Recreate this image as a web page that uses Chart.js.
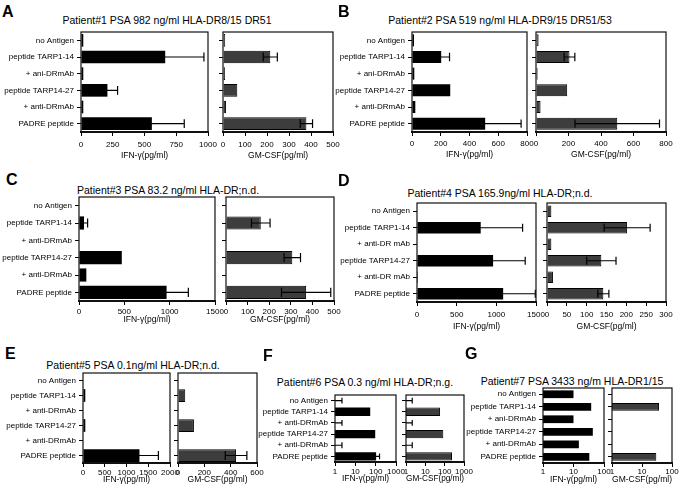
<!DOCTYPE html>
<html>
<head>
<meta charset="utf-8">
<script src="https://cdn.jsdelivr.net/npm/chart.js@4"></script>
<style>
  body { margin: 0; background: #fff; }
  #fig { position: relative; width: 681px; height: 497px; overflow: hidden;
         font-family: "Liberation Sans", Arial, sans-serif; color: #000; }
  .plot { position: absolute; }
  .ttl { position: absolute; font-size: 10.5px; white-space: nowrap; transform: translate(-50%, -50%); }
  .let { position: absolute; font-size: 16px; font-weight: bold; line-height: 16px; transform: translate(0, -50%); }
</style>
</head>
<body>
<div id="fig"></div>
<script>
/*
 * Values (pg/ml), one array per series
 */
const rowsA = ["no Antigen", "peptide TARP1-14", "+ ani-DRmAb", "peptide TARP14-27", "+ anti-DRmAb", "PADRE peptide"];
const rowsC = ["no Antigen", "peptide TARP1-14", "+ anti-DRmAb", "peptide TARP14-27", "+ anti-DRmAb", "PADRE peptide"];
const rowsD = ["no Antigen", "peptide TARP1-14", "+ anti-DR mAb", "peptide TARP14-27", "+ anti-DR mAb", "PADRE peptide"];

const titles = [
    "Patient#1 PSA 982 ng/ml HLA-DR8/15 DR51",
    "Patient#2 PSA 519 ng/ml HLA-DR9/15 DR51/53",
    "Patient#3 PSA 83.2 ng/ml HLA-DR;n.d.",
    "Patient#4 PSA 165.9ng/ml HLA-DR;n.d.",
    "Patient#5 PSA 0.1ng/ml HLA-DR;n.d.",
    "Patient#6 PSA 0.3 ng/ml HLA-DR;n.g.",
    "Patient#7 PSA 3433 ng/m HLA-DR1/15"
];
const letters = ["A", "B", "C", "D", "E", "F", "G"];

// Patient 1
const ifnA = [18, 663, 18, 208, 18, 558];
const ifnErrA = [0, 305, 0, 80, 0, 255];
const gmA = [10, 215, 9, 65, 14, 379];
const gmErrA = [0, 32, 0, 0, 0, 28];
// Patient 2
const ifnB = [14, 203, 16, 266, 23, 509];
const ifnErrB = [0, 58, 0, 0, 0, 250];
const gmB = [16, 206, 10, 192, 28, 500];
const gmErrB = [0, 33, 0, 0, 0, 260];
// Patient 3
const ifnC = [0, 55, 0, 472, 81, 966];
const ifnErrC = [0, 40, 0, 0, 0, 240];
const gmC = [0, 161, 0, 307, 0, 371];
const gmErrC = [0, 43, 0, 38, 0, 114];
// Patient 4
const ifnD = [0, 803, 0, 959, 12, 1086];
const ifnErrD = [0, 528, 0, 405, 0, 405];
const gmD = [11, 202, 11, 137, 15, 142];
const gmErrD = [0, 58, 0, 37, 0, 14];
// Patient 5
const ifnE = [0, 53, 0, 53, 0, 1298];
const ifnErrE = [0, 0, 0, 0, 0, 435];
const gmE = [0, 55, 0, 121, 0, 441];
const gmErrE = [0, 0, 0, 0, 0, 82];
// Patient 6 (log axis)
const ifnF = [1, 54, 1, 95, 1, 105];
const ifnErrF = [1.2, 0, 1.2, 0, 1.2, 50];
const gmF = [1, 58, 1, 85, 1, 240];
const gmErrF = [1.1, 0, 1.1, 0, 1.1, 0];
// Patient 7 (log axis)
const ifnG = [10, 38, 10, 43, 15, 33];
const gmG = [null, 37, null, null, null, 30];

// tick labels
const ticksA = [0, 250, 500, 750, 1000];
const ticksGmA = [0, 100, 200, 300, 400, 500];
const ticksB = [0, 200, 400, 600, 800];
const ticksC = [0, 500, 1000, 1500];
const ticksGmD = [0, 50, 100, 150, 200, 250, 300];
const ticksE = [0, 500, 1000, 1500, 2000];
const ticksGmE = [0, 200, 400, 600];
const ticksF = [1, 10, 100, 1000];
const ticksG = [1, 10, 100];

const fig = document.getElementById("fig");
Chart.defaults.font.family = '"Liberation Sans", Arial, sans-serif';
Chart.defaults.color = "#000";

// draws the frame round each plot
const framePlugin = {
    id: "frame",
    afterDraw: (chart) => {
        const {ctx, chartArea} = chart;
        ctx.save();
        ctx.strokeStyle = "#111";
        ctx.lineWidth = 1.2;
        ctx.strokeRect(chartArea.left, chartArea.top, chartArea.right - chartArea.left, chartArea.bottom - chartArea.top);
        ctx.restore();
    }
};

// symmetric error bars, placed with the x scale
const errorBarsPlugin = {
    id: "errorBars",
    afterDatasetsDraw: (chart, args, opts) => {
        const errs = opts.errors;
        if (!errs) return;
        const meta = chart.getDatasetMeta(0);
        const xs = chart.scales.x;
        const vals = chart.data.datasets[0].data;
        const ctx = chart.ctx;
        ctx.save();
        ctx.strokeStyle = "#000";
        ctx.lineWidth = 1.2;
        meta.data.forEach((bar, i) => {
            const e = errs[i];
            if (!e || vals[i] == null) return;
            const v = vals[i];
            const cap = bar.height * 0.35;
            const lo = v - e;
            const hasLo = lo > xs.min;
            const x1 = hasLo ? xs.getPixelForValue(lo) : chart.chartArea.left;
            const x2 = xs.getPixelForValue(v + e);
            ctx.beginPath();
            ctx.moveTo(x1, bar.y);
            ctx.lineTo(x2, bar.y);
            ctx.moveTo(x2, bar.y - cap);
            ctx.lineTo(x2, bar.y + cap);
            if (hasLo) {
                ctx.moveTo(x1, bar.y - cap);
                ctx.lineTo(x1, bar.y + cap);
            }
            ctx.stroke();
        });
        ctx.restore();
    }
};

function addPlot(box, o) {
    const W = o.showLabels ? 80 : 10, T = 6, R = 14, H = o.xh;
    const left = Math.round(box[0]) - W, top = Math.round(box[1]) - T;
    const w = Math.round(box[2]) - Math.round(box[0]) + W + R;
    const h = Math.round(box[3]) - Math.round(box[1]) + T + H;
    const cv = document.createElement("canvas");
    cv.className = "plot";
    cv.width = w; cv.height = h;
    cv.style.left = left + "px"; cv.style.top = top + "px";
    cv.style.width = w + "px"; cv.style.height = h + "px";
    fig.appendChild(cv);

    const ticks = o.ticks;
    new Chart(cv, {
        type: "bar",
        data: {
            labels: o.labels,
            datasets: [{
                data: o.values,
                backgroundColor: o.color,
                borderColor: "#000",
                borderWidth: o.color == "#000" ? 0 : 1,
                barPercentage: o.bp,
                categoryPercentage: 1
            }]
        },
        options: {
            indexAxis: "y",
            responsive: false,
            animation: false,
            layout: {padding: {top: T, right: R, left: 0, bottom: 0}},
            plugins: {
                legend: {display: false},
                tooltip: {enabled: false},
                errorBars: {errors: o.errors}
            },
            scales: {
                x: {
                    type: o.log ? "logarithmic" : "linear",
                    min: ticks[0],
                    max: ticks[ticks.length - 1],
                    afterBuildTicks: (s) => { s.ticks = ticks.map(v => ({value: v})); },
                    afterFit: (s) => { s.height = H; s.paddingLeft = 0; s.paddingRight = 0; },
                    grid: {drawOnChartArea: false, tickLength: 4, color: "#000"},
                    border: {display: true, color: "#111", width: 2},
                    ticks: {padding: o.tp, font: {size: 8}, maxRotation: 0, autoSkip: false, callback: (v) => String(v)},
                    title: {display: true, text: o.xtitle, padding: 0, font: {size: 8.5}}
                },
                y: {
                    offset: true,
                    afterFit: (s) => { s.width = W; s.paddingTop = 0; s.paddingBottom = 0; },
                    grid: {drawOnChartArea: false, offset: false, tickLength: 4, color: "#000"},
                    border: {display: false},
                    ticks: {display: o.showLabels, padding: 3, font: {size: 8}, autoSkip: false}
                }
            }
        },
        plugins: [framePlugin, errorBarsPlugin]
    });
}

function addText(cls, text, x, y) {
    const d = document.createElement("div");
    d.className = cls;
    d.textContent = text;
    d.style.left = x + "px";
    d.style.top = y + "px";
    fig.appendChild(d);
}

// Sets up one patient panel: IFN-g plot with the row labels, GM-CSF plot beside it
function setupPanel(p) {
    addText("let", letters[p.n], p.letter[0], p.letter[1]);
    addText("ttl", titles[p.n], p.title[0], p.title[1]);
    addPlot(p.ifnBox, {labels: p.rows, values: p.ifn, errors: p.ifnErr, color: "#000", ticks: p.ifnTicks,
        log: p.log, showLabels: true, bp: p.bp, tp: p.tp, xh: p.xh, xtitle: "IFN-\u03b3(pg/ml)"});
    addPlot(p.gmBox, {labels: p.rows, values: p.gm, errors: p.gmErr, color: "#3d3d3d", ticks: p.gmTicks,
        log: p.log, showLabels: false, bp: p.bp, tp: p.tp, xh: p.xh, xtitle: "GM-CSF(pg/ml)"});
}

setupPanel({n: 0, rows: rowsA, ifn: ifnA, ifnErr: ifnErrA, gm: gmA, gmErr: gmErrA, ifnTicks: ticksA, gmTicks: ticksGmA,
    ifnBox: [81, 32, 208, 132], gmBox: [223, 32, 333, 132], tp: 4, xh: 29, bp: 0.76, title: [167, 20], letter: [2, 12]});
setupPanel({n: 1, rows: rowsA, ifn: ifnB, ifnErr: ifnErrB, gm: gmB, gmErr: gmErrB, ifnTicks: ticksB, gmTicks: ticksB,
    ifnBox: [412, 32, 527, 132], gmBox: [536, 32, 666, 132], tp: 3, xh: 28, bp: 0.72, title: [500, 20], letter: [338, 12]});
setupPanel({n: 2, rows: rowsC, ifn: ifnC, ifnErr: ifnErrC, gm: gmC, gmErr: gmErrC, ifnTicks: ticksC, gmTicks: ticksGmA,
    ifnBox: [79, 197, 215, 301], gmBox: [226, 197, 334, 301], tp: 2, xh: 24, bp: 0.76, title: [168, 190], letter: [6, 180]});
setupPanel({n: 3, rows: rowsD, ifn: ifnD, ifnErr: ifnErrD, gm: gmD, gmErr: gmErrD, ifnTicks: ticksC, gmTicks: ticksGmD,
    ifnBox: [417, 203, 536, 302], gmBox: [547, 203, 666, 302], tp: 3.5, xh: 30, bp: 0.7, title: [500, 193], letter: [338, 181]});
setupPanel({n: 4, rows: rowsC, ifn: ifnE, ifnErr: ifnErrE, gm: gmE, gmErr: gmErrE, ifnTicks: ticksE, gmTicks: ticksGmE,
    ifnBox: [83, 373, 170, 463], gmBox: [178, 373, 257, 463], tp: 1, xh: 22, bp: 0.85, title: [133, 365], letter: [5, 354]});
setupPanel({n: 5, rows: rowsC, ifn: ifnF, ifnErr: ifnErrF, gm: gmF, gmErr: gmErrF, ifnTicks: ticksF, gmTicks: ticksF, log: true,
    ifnBox: [335, 395, 396, 462], gmBox: [406, 395, 464, 462], tp: 1, xh: 22, bp: 0.75, title: [365, 382], letter: [263, 356]});
setupPanel({n: 6, rows: rowsA, ifn: ifnG, ifnErr: null, gm: gmG, gmErr: null, ifnTicks: ticksG, gmTicks: ticksG, log: true,
    ifnBox: [543, 388, 604, 463], gmBox: [612, 388, 672, 463], tp: 0, xh: 22, bp: 0.62, title: [572, 381], letter: [465, 354]});
</script>
</body>
</html>
